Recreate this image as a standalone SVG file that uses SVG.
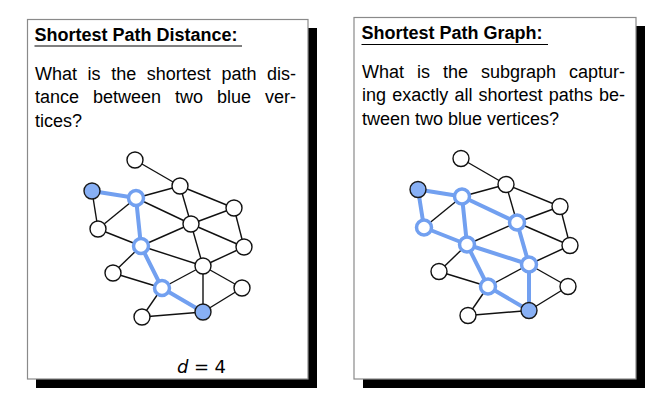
<svg xmlns="http://www.w3.org/2000/svg" width="666" height="413" viewBox="0 0 666 413">
<style>
.shadow{fill:#000}
.box{fill:#fff;stroke:#8a8a8a;stroke-width:1.2}
.title{font-family:"Liberation Sans",Arial,sans-serif;font-size:18px;font-weight:bold;fill:#000}
.body{font-family:"Liberation Sans",Arial,sans-serif;font-size:18px;fill:#000}
.ul{stroke:#000;stroke-width:1.2}
.e{stroke:#111;stroke-width:1.4;fill:none}
.eb{stroke:#72a0f0;stroke-width:4;fill:none;stroke-linecap:round}
.n{fill:#fff;stroke:#111;stroke-width:1.4}
.nh{fill:#fff;stroke:#72a0f0;stroke-width:3.5}
.nb{fill:#88b0f5;stroke:#1a1a1a;stroke-width:1.4}
.math{font-family:"DejaVu Sans",sans-serif;font-size:18px;fill:#000}
</style>
<rect class="shadow" x="36" y="28" width="281" height="360"/>
<rect class="box" x="27.5" y="19.5" width="280.5" height="359.5"/>
<rect class="shadow" x="363" y="26" width="282" height="362"/>
<rect class="box" x="354" y="17.5" width="282" height="361.5"/>

<g id="left-text">
<text class="title" x="34.5" y="41">Shortest Path Distance:</text>
<line class="ul" x1="34.5" y1="46" x2="242" y2="46"/>
<text class="body" y="80"><tspan x="35">What</tspan><tspan x="87.6">is</tspan><tspan x="111.2">the</tspan><tspan x="146.8">shortest</tspan><tspan x="221.4">path</tspan><tspan x="267">dis-</tspan></text>
<text class="body" y="103.3"><tspan x="35">tance</tspan><tspan x="93">between</tspan><tspan x="175">two</tspan><tspan x="217">blue</tspan><tspan x="265">ver-</tspan></text>
<text class="body" x="35" y="126.6">tices?</text>
<text class="math" x="177" y="373"><tspan font-style="italic">d</tspan><tspan dx="5.5">=</tspan><tspan dx="5.5">4</tspan></text>
</g>

<g id="right-text">
<text class="title" x="361.5" y="39">Shortest Path Graph:</text>
<line class="ul" x1="361.5" y1="44.5" x2="548" y2="44.5"/>
<text class="body" y="78"><tspan x="362">What</tspan><tspan x="417">is</tspan><tspan x="443">the</tspan><tspan x="481">subgraph</tspan><tspan x="569">captur-</tspan></text>
<text class="body" y="101.3"><tspan x="362">ing</tspan><tspan x="392.2">exactly</tspan><tspan x="454.4">all</tspan><tspan x="478.6">shortest</tspan><tspan x="548.8">paths</tspan><tspan x="599">be-</tspan></text>
<text class="body" x="362" y="124.6">tween two blue vertices?</text>
</g>

<g id="left-connectors">
<line class="e" x1="135" y1="160" x2="180" y2="186"/>
<line class="e" x1="92" y1="191" x2="98" y2="229"/>
<line class="e" x1="136" y1="198" x2="180" y2="186"/>
<line class="e" x1="136" y1="198" x2="191" y2="224"/>
<line class="e" x1="136" y1="198" x2="98" y2="229"/>
<line class="e" x1="180" y1="186" x2="234" y2="208"/>
<line class="e" x1="180" y1="186" x2="191" y2="224"/>
<line class="e" x1="234" y1="208" x2="191" y2="224"/>
<line class="e" x1="234" y1="208" x2="244" y2="247"/>
<line class="e" x1="191" y1="224" x2="141" y2="246"/>
<line class="e" x1="191" y1="224" x2="244" y2="247"/>
<line class="e" x1="191" y1="224" x2="203" y2="266"/>
<line class="e" x1="98" y1="229" x2="141" y2="246"/>
<line class="e" x1="141" y1="246" x2="203" y2="266"/>
<line class="e" x1="244" y1="247" x2="203" y2="266"/>
<line class="e" x1="113" y1="273" x2="141" y2="246"/>
<line class="e" x1="113" y1="273" x2="162" y2="288"/>
<line class="e" x1="162" y1="288" x2="203" y2="266"/>
<line class="e" x1="162" y1="288" x2="142" y2="317"/>
<line class="e" x1="203" y1="266" x2="203" y2="312"/>
<line class="e" x1="203" y1="266" x2="242" y2="288"/>
<line class="e" x1="242" y1="288" x2="203" y2="312"/>
<line class="e" x1="142" y1="317" x2="203" y2="312"/>
<line class="eb" x1="92" y1="191" x2="136" y2="198"/>
<line class="eb" x1="136" y1="198" x2="141" y2="246"/>
<line class="eb" x1="141" y1="246" x2="162" y2="288"/>
<line class="eb" x1="162" y1="288" x2="203" y2="312"/>
</g>

<g id="left-nodes">
<g id="L-n1"><circle class="n" cx="135" cy="160" r="8"/></g>
<g id="L-n2"><circle class="n" cx="180" cy="186" r="8"/></g>
<g id="L-b1"><circle class="nb" cx="92" cy="191" r="8"/></g>
<g id="L-h1"><circle class="nh" cx="136" cy="198" r="7.5"/></g>
<g id="L-n3"><circle class="n" cx="234" cy="208" r="8"/></g>
<g id="L-n4"><circle class="n" cx="191" cy="224" r="8"/></g>
<g id="L-n5"><circle class="n" cx="98" cy="229" r="8"/></g>
<g id="L-h2"><circle class="nh" cx="141" cy="246" r="7.5"/></g>
<g id="L-n6"><circle class="n" cx="244" cy="247" r="8"/></g>
<g id="L-n7"><circle class="n" cx="203" cy="266" r="8"/></g>
<g id="L-n8"><circle class="n" cx="113" cy="273" r="8"/></g>
<g id="L-h3"><circle class="nh" cx="162" cy="288" r="7.5"/></g>
<g id="L-n9"><circle class="n" cx="242" cy="288" r="8"/></g>
<g id="L-n10"><circle class="n" cx="142" cy="317" r="8"/></g>
<g id="L-b2"><circle class="nb" cx="203" cy="312" r="8"/></g>
</g>

<g transform="translate(326,-1.5)">
<g id="right-connectors">
<line class="e" x1="135" y1="160" x2="180" y2="186"/>
<line class="e" x1="136" y1="198" x2="180" y2="186"/>
<line class="e" x1="136" y1="198" x2="98" y2="229"/>
<line class="e" x1="180" y1="186" x2="234" y2="208"/>
<line class="e" x1="180" y1="186" x2="191" y2="224"/>
<line class="e" x1="234" y1="208" x2="191" y2="224"/>
<line class="e" x1="234" y1="208" x2="244" y2="247"/>
<line class="e" x1="191" y1="224" x2="141" y2="246"/>
<line class="e" x1="191" y1="224" x2="244" y2="247"/>
<line class="e" x1="244" y1="247" x2="203" y2="266"/>
<line class="e" x1="113" y1="273" x2="141" y2="246"/>
<line class="e" x1="113" y1="273" x2="162" y2="288"/>
<line class="e" x1="162" y1="288" x2="203" y2="266"/>
<line class="e" x1="162" y1="288" x2="142" y2="317"/>
<line class="e" x1="203" y1="266" x2="242" y2="288"/>
<line class="e" x1="242" y1="288" x2="203" y2="312"/>
<line class="e" x1="142" y1="317" x2="203" y2="312"/>
<line class="eb" x1="92" y1="191" x2="136" y2="198"/>
<line class="eb" x1="92" y1="191" x2="98" y2="229"/>
<line class="eb" x1="136" y1="198" x2="191" y2="224"/>
<line class="eb" x1="136" y1="198" x2="141" y2="246"/>
<line class="eb" x1="98" y1="229" x2="141" y2="246"/>
<line class="eb" x1="191" y1="224" x2="203" y2="266"/>
<line class="eb" x1="141" y1="246" x2="203" y2="266"/>
<line class="eb" x1="141" y1="246" x2="162" y2="288"/>
<line class="eb" x1="162" y1="288" x2="203" y2="312"/>
<line class="eb" x1="203" y1="266" x2="203" y2="312"/>
</g>
<g id="right-nodes">
<g id="R-n1"><circle class="n" cx="135" cy="160" r="8"/></g>
<g id="R-n2"><circle class="n" cx="180" cy="186" r="8"/></g>
<g id="R-b1"><circle class="nb" cx="92" cy="191" r="8"/></g>
<g id="R-h1"><circle class="nh" cx="136" cy="198" r="7.5"/></g>
<g id="R-n3"><circle class="n" cx="234" cy="208" r="8"/></g>
<g id="R-h4"><circle class="nh" cx="191" cy="224" r="7.5"/></g>
<g id="R-h5"><circle class="nh" cx="98" cy="229" r="7.5"/></g>
<g id="R-h2"><circle class="nh" cx="141" cy="246" r="7.5"/></g>
<g id="R-n6"><circle class="n" cx="244" cy="247" r="8"/></g>
<g id="R-h7"><circle class="nh" cx="203" cy="266" r="7.5"/></g>
<g id="R-n8"><circle class="n" cx="113" cy="273" r="8"/></g>
<g id="R-h3"><circle class="nh" cx="162" cy="288" r="7.5"/></g>
<g id="R-n9"><circle class="n" cx="242" cy="288" r="8"/></g>
<g id="R-n10"><circle class="n" cx="142" cy="317" r="8"/></g>
<g id="R-b2"><circle class="nb" cx="203" cy="312" r="8"/></g>
</g>
</g>
</svg>
